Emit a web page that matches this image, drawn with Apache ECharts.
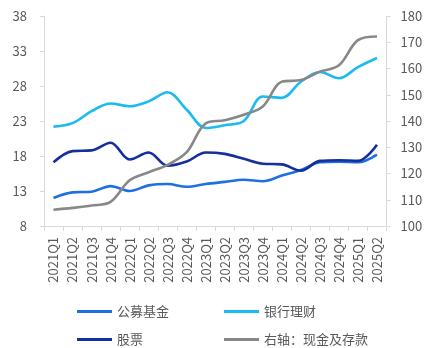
<!DOCTYPE html>
<html>
<head>
<meta charset="utf-8">
<script src="https://cdn.jsdelivr.net/npm/echarts@6/dist/echarts.min.js"></script>
<style>
  html, body { margin: 0; padding: 0; background: #fff; }
  #chart { width: 432px; height: 348px; }
</style>
</head>
<body>
<div id="chart"></div>
<script>
// Quarterly categories
var quarters = ['2021Q1','2021Q2','2021Q3','2021Q4','2022Q1','2022Q2','2022Q3','2022Q4',
  '2023Q1','2023Q2','2023Q3','2023Q4','2024Q1','2024Q2','2024Q3','2024Q4','2025Q1','2025Q2'];

// Left axis series
var fundValues   = [12.0,12.8,12.9,13.7,13.0,13.8,14.0,13.6,14.0,14.3,14.6,14.4,15.2,16.0,17.1,17.2,17.1,18.2];
var wealthValues = [22.2,22.7,24.4,25.5,25.1,25.8,27.1,24.6,22.0,22.4,23.0,26.5,26.3,28.6,30.0,29.1,30.7,32.0];
var stockValues  = [17.1,18.7,18.8,19.9,17.5,18.5,16.6,17.2,18.5,18.3,17.6,16.9,16.8,15.9,17.3,17.4,17.3,19.6];
// Right axis series
var cashValues   = [106.2,106.9,107.8,109.2,117.4,120.5,123.3,128.1,139.1,140.3,142.4,145.5,155.0,155.6,158.8,161.2,170.8,172.2];

// Axis ticks
var leftTicks  = { min: 8, max: 38, interval: 5 };
var rightTicks = { min: 100, max: 180, interval: 10 };

var FONT = '"Noto Sans CJK SC", "Noto Sans", sans-serif';
var TEXT = '#595959';
var AXIS = '#d9d9d9';

var chart = echarts.init(document.getElementById('chart'), null, { renderer: 'canvas' });

function lineSeries(name, data, color, yIndex) {
  return {
    name: name, type: 'line', data: data, yAxisIndex: yIndex,
    smooth: 0.35, symbol: 'none',
    lineStyle: { width: 2.6, color: color },
    itemStyle: { color: color }
  };
}

// One legend block per entry, laid out as a 2x2 grid
function legendItem(name, left, top) {
  return {
    left: left, top: top, data: [name],
    itemWidth: 35, itemHeight: 3, icon: 'rect',
    padding: 0,
    textStyle: { fontFamily: FONT, fontSize: 13, color: TEXT }
  };
}

chart.setOption({
  animation: false,
  backgroundColor: '#fff',
  grid: { left: 44, right: 45.5, top: 16, bottom: 122, containLabel: false },
  legend: [
    legendItem('公募基金', 77, 305),
    legendItem('银行理财', 224, 305),
    legendItem('股票', 77, 333),
    legendItem('右轴：现金及存款', 224, 333)
  ],
  xAxis: {
    type: 'category', data: quarters, boundaryGap: true,
    axisLine: { lineStyle: { color: AXIS } },
    axisTick: { show: true, length: 5, lineStyle: { color: AXIS } },
    axisLabel: { rotate: 90, interval: 0, margin: 11, fontFamily: FONT, fontSize: 13, color: TEXT }
  },
  yAxis: [
    {
      type: 'value', position: 'left',
      min: leftTicks.min, max: leftTicks.max, interval: leftTicks.interval,
      axisLine: { show: true, lineStyle: { color: AXIS } },
      axisTick: { show: true, length: 4, lineStyle: { color: AXIS } },
      splitLine: { show: false },
      axisLabel: { margin: 17, fontFamily: FONT, fontSize: 13, color: TEXT }
    },
    {
      type: 'value', position: 'right',
      min: rightTicks.min, max: rightTicks.max, interval: rightTicks.interval,
      axisLine: { show: true, lineStyle: { color: AXIS } },
      axisTick: { show: true, length: 4, lineStyle: { color: AXIS } },
      splitLine: { show: false },
      axisLabel: { margin: 14, fontFamily: FONT, fontSize: 13, color: TEXT }
    }
  ],
  series: [
    lineSeries('公募基金', fundValues, '#1f6fe4', 0),
    lineSeries('银行理财', wealthValues, '#1bbaf0', 0),
    lineSeries('股票', stockValues, '#13309e', 0),
    lineSeries('右轴：现金及存款', cashValues, '#888888', 1)
  ]
});
</script>
</body>
</html>
